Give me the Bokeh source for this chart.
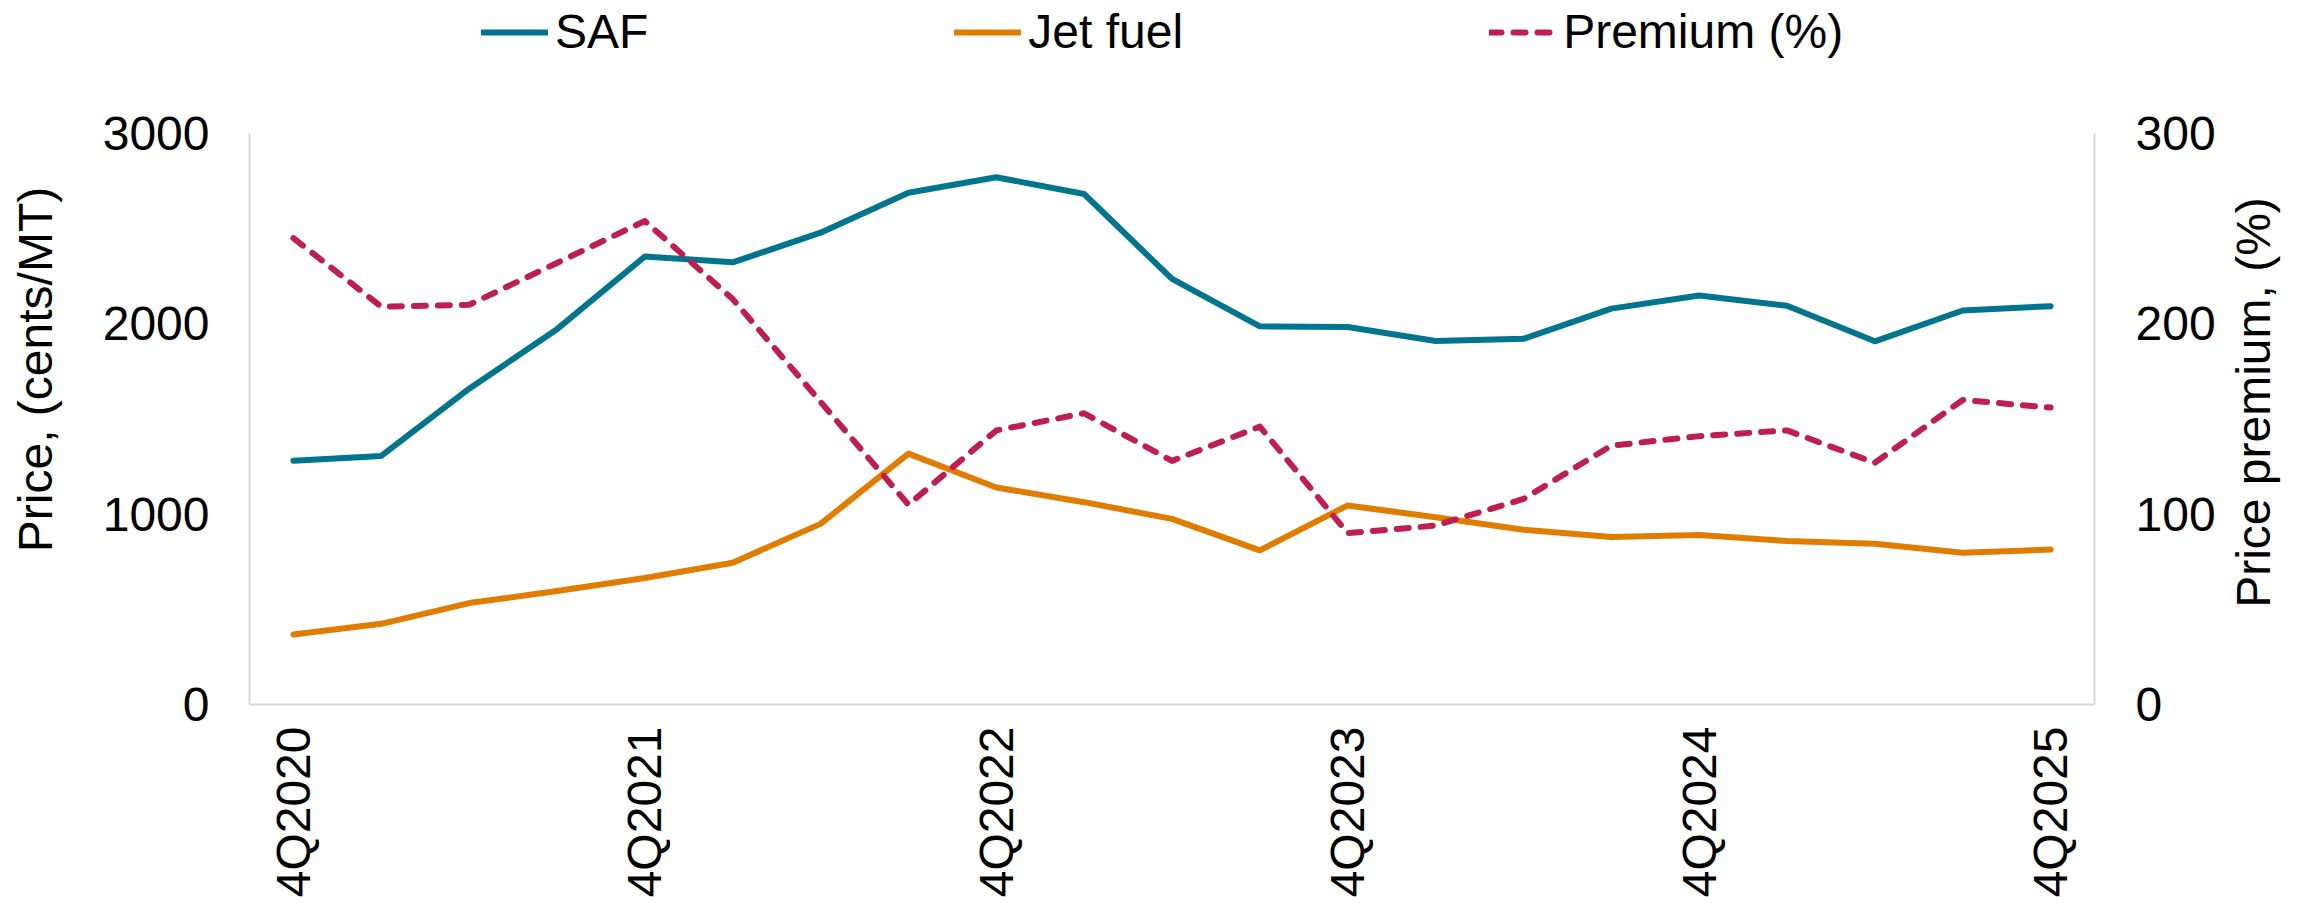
import math
from bokeh.plotting import figure
from bokeh.layouts import column, row
from bokeh.models import LinearAxis, Range1d, FixedTicker, Legend, LegendItem, Label
from bokeh.embed import file_html
from bokeh.resources import INLINE

quarters = ["4Q2020", "1Q2021", "2Q2021", "3Q2021", "4Q2021", "1Q2022", "2Q2022",
            "3Q2022", "4Q2022", "1Q2023", "2Q2023", "3Q2023", "4Q2023", "1Q2024",
            "2Q2024", "3Q2024", "4Q2024", "1Q2025", "2Q2025", "3Q2025", "4Q2025"]
saf = [1281, 1306, 1659, 1972, 2354, 2323, 2479, 2689, 2770, 2682, 2236, 1987,
       1983, 1910, 1921, 2080, 2149, 2095, 1908, 2070, 2093]
jet_fuel = [368, 424, 533, 596, 665, 745, 949, 1318, 1140, 1063, 975, 810,
            1046, 984, 918, 880, 890, 859, 845, 797, 814]
premium = [245, 209, 210, 232, 254, 213, 159, 105, 144, 153, 128, 146,
           90, 94, 108, 136, 141, 144, 127, 160, 156]
left_ticks = [0, 1000, 2000, 3000]
right_ticks = [0, 100, 200, 300]
series_names = ["SAF", "Jet fuel", "Premium (%)"]
left_title = "Price, (cents/MT)"
right_title = "Price premium, (%)"

FONT = "Liberation Sans"
FS = "48px"
AXIS_GRAY = "#d9d9d9"
C_SAF = "#00758D"
C_JET = "#E07C00"
C_PREM = "#BE1E50"
LW = 6
DASH = "12 12"

x = list(range(len(quarters)))

LEG_H = 66
MAIN_H = 915 - LEG_H
LSTRIP_W = 90
RSTRIP_W = 84
MAIN_W = 2306 - LSTRIP_W - RSTRIP_W
FRAME_TOP, FRAME_BOTTOM = 133, 704   # page pixels


def blank_fig(w, h, **kw):
    f = figure(width=w, height=h, output_backend="svg", toolbar_location=None,
               x_axis_location=None, y_axis_location=None,
               x_range=Range1d(0, 1), y_range=Range1d(0, 1),
               min_border_left=0, min_border_right=0, min_border_top=0,
               min_border_bottom=0, **kw)
    f.outline_line_color = None
    f.xgrid.visible = False
    f.ygrid.visible = False
    f.background_fill_color = "white"
    f.border_fill_color = "white"
    return f


# ---------- main chart ----------
p = figure(width=MAIN_W, height=MAIN_H, output_backend="svg", toolbar_location=None,
           x_range=Range1d(-0.5, len(quarters) - 0.5), y_range=Range1d(0, 3000),
           min_border_left=249 - LSTRIP_W, min_border_right=MAIN_W + LSTRIP_W - 2094,
           min_border_top=FRAME_TOP - LEG_H, min_border_bottom=915 - FRAME_BOTTOM)
p.outline_line_color = None
p.xgrid.visible = False
p.ygrid.visible = False
p.background_fill_color = "white"
p.border_fill_color = "white"
p.extra_y_ranges = {"pct": Range1d(0, 300)}

xa = p.xaxis[0]
xa.ticker = FixedTicker(ticks=x[::4])
xa.major_label_overrides = {i: quarters[i] for i in x[::4]}
xa.major_label_orientation = math.pi / 2
xa.major_label_standoff = 22

ya = p.yaxis[0]
ya.ticker = FixedTicker(ticks=left_ticks)
ya.major_label_standoff = 40

ra = LinearAxis(y_range_name="pct", ticker=FixedTicker(ticks=right_ticks))
ra.major_label_standoff = 41
p.add_layout(ra, "right")

for ax in [xa, ya, ra]:
    ax.axis_line_color = AXIS_GRAY
    ax.axis_line_width = 2
    ax.major_tick_line_color = None
    ax.minor_tick_line_color = None
    ax.major_tick_in = 0
    ax.major_tick_out = 0
    ax.minor_tick_in = 0
    ax.minor_tick_out = 0
    ax.major_label_text_font = FONT
    ax.major_label_text_font_size = FS
    ax.major_label_text_color = "black"

styles = [dict(line_color=C_SAF), dict(line_color=C_JET),
          dict(line_color=C_PREM, line_dash=DASH)]
p.line(x, saf, line_width=LW, line_join="round", line_cap="round", **styles[0])
p.line(x, jet_fuel, line_width=LW, line_join="round", line_cap="round", **styles[1])
p.line(x, premium, y_range_name="pct", line_width=LW, line_join="round",
       line_cap="round", **styles[2])

# ---------- legend strip (series drawn out of view; only legend glyphs show) ----------
lf = blank_fig(2306, LEG_H)
lf.y_range = Range1d(-2, -1)
g1 = lf.line(x, saf, line_width=LW, line_cap="round", **styles[0])
g2 = lf.line(x, jet_fuel, line_width=LW, line_cap="round", **styles[1])
g3 = lf.line(x, premium, line_width=LW, line_cap="round", **styles[2])
legend = Legend(items=[LegendItem(label=series_names[0], renderers=[g1]),
                       LegendItem(label=series_names[1], renderers=[g2]),
                       LegendItem(label=series_names[2], renderers=[g3])],
                orientation="horizontal", location=(481, 7),
                glyph_width=67, glyph_height=40, label_standoff=7, spacing=306,
                padding=0, margin=0, border_line_color=None,
                background_fill_alpha=0, label_text_font=FONT,
                label_text_font_size=FS, label_text_color="black")
lf.add_layout(legend)

# ---------- axis title strips (frames are aligned with the main frame) ----------
lt = blank_fig(LSTRIP_W, MAIN_H)
lt.add_layout(Label(x=35, y=FRAME_BOTTOM - 369, x_units="screen", y_units="screen",
                    text=left_title, angle=math.pi / 2, text_align="center",
                    text_baseline="middle", text_font=FONT, text_font_size=FS,
                    text_color="black"))
rt = blank_fig(RSTRIP_W, MAIN_H)
rt.add_layout(Label(x=2253 - (2306 - RSTRIP_W), y=FRAME_BOTTOM - 402, x_units="screen",
                    y_units="screen", text=right_title, angle=math.pi / 2,
                    text_align="center", text_baseline="middle", text_font=FONT,
                    text_font_size=FS, text_color="black"))

layout = column(lf, row(lt, p, rt, spacing=0), spacing=0)
open("out.html", "w").write(file_html(layout, INLINE))
